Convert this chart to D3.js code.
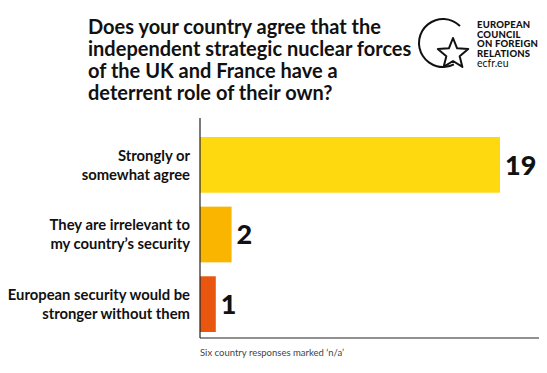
<!DOCTYPE html>
<html>
<head>
<meta charset="utf-8">
<script src="https://cdn.jsdelivr.net/npm/d3@7"></script>
<style>
  html, body { margin: 0; padding: 0; background: #fff; }
  svg { display: block; font-family: Lato, "Open Sans", sans-serif; }
</style>
</head>
<body>
<svg id="chart"></svg>
<script>
// data
const categories = [
  ["Strongly or", "somewhat agree"],
  ["They are irrelevant to", "my country\u2019s security"],
  ["European security would be", "stronger without them"]
];
const values = [19, 2, 1];
const barColors = ["#ffd90f", "#f9b500", "#e8560f"];
const titleLines = [
  "Does your country agree that the",
  "independent strategic nuclear forces",
  "of the UK and France have a",
  "deterrent role of their own?"
];
const logoLines = ["EUROPEAN", "COUNCIL", "ON FOREIGN", "RELATIONS"];
const footnote = "Six country responses marked \u2018n/a\u2019";

const width = 547, height = 373;
const svg = d3.select("#chart").attr("width", width).attr("height", height);

// title
svg.append("g").selectAll("text")
  .data(titleLines)
  .enter().append("text")
  .attr("x", 88)
  .attr("y", (d, i) => 34 + i * 22)
  .attr("font-size", 20)
  .attr("font-weight", 700)
  .attr("fill", "#111")
  .text(d => d);

// logo
const logo = svg.append("g");
const arc = d3.arc().innerRadius(23).outerRadius(25)
  .startAngle(Math.PI * 0.85).endAngle(Math.PI * 2.25);
logo.append("path").attr("d", arc()).attr("transform", "translate(443,43)").attr("fill", "#111");
const star = [];
for (let i = 0; i < 10; i++) {
  const r = i % 2 === 0 ? 16 : 7;
  const a = -Math.PI / 2 + i * Math.PI / 5;
  star.push([r * Math.cos(a), r * Math.sin(a)]);
}
logo.append("path")
  .attr("d", d3.line()(star) + "Z")
  .attr("transform", "translate(453,54)")
  .attr("fill", "#fff").attr("stroke", "#111").attr("stroke-width", 2).attr("stroke-linejoin", "round");
logo.selectAll("text.l")
  .data(logoLines)
  .enter().append("text")
  .attr("class", "l")
  .attr("x", 477)
  .attr("y", (d, i) => 28 + i * 9.5)
  .attr("font-size", 9.5)
  .attr("font-weight", 900)
  .attr("letter-spacing", 0.2)
  .attr("fill", "#111")
  .text(d => d);
logo.append("text")
  .attr("x", 477).attr("y", 67)
  .attr("font-size", 10.5)
  .attr("fill", "#111")
  .text("ecfr.eu");

// scales
const x = d3.scaleLinear().domain([0, 19]).range([200, 500]);
const y = d3.scaleBand().domain(d3.range(values.length)).range([137, 332]).paddingInner(0.2);

// bars
svg.append("g").selectAll("rect")
  .data(values)
  .enter().append("rect")
  .attr("x", x(0))
  .attr("y", (d, i) => y(i))
  .attr("width", d => x(d) - x(0))
  .attr("height", y.bandwidth())
  .attr("fill", (d, i) => barColors[i]);

// value labels
svg.append("g").selectAll("text")
  .data(values)
  .enter().append("text")
  .attr("x", d => x(d) + 5)
  .attr("y", (d, i) => y(i) + y.bandwidth() / 2)
  .attr("dy", "0.36em")
  .attr("font-size", 27)
  .attr("font-weight", 900)
  .attr("fill", "#111")
  .text(d => d);

// category labels
const cat = svg.append("g").selectAll("text")
  .data(categories)
  .enter().append("text")
  .attr("text-anchor", "end")
  .attr("font-size", 14.8)
  .attr("font-weight", 700)
  .attr("fill", "#111");
cat.selectAll("tspan")
  .data((d, i) => d.map((t, j) => ({ t, j, i })))
  .enter().append("tspan")
  .attr("x", 190)
  .attr("y", d => y(d.i) + y.bandwidth() / 2 + (d.j - 0.5) * 19)
  .attr("dy", "0.35em")
  .text(d => d.t);

// axis lines
svg.append("line").attr("x1", 200).attr("x2", 200).attr("y1", 118).attr("y2", 338)
  .attr("stroke", "#222").attr("stroke-width", 1.2);
svg.append("line").attr("x1", 200).attr("x2", 539).attr("y1", 338).attr("y2", 338)
  .attr("stroke", "#222").attr("stroke-width", 1.2);

// footnote
svg.append("text")
  .attr("x", 200).attr("y", 356)
  .attr("font-size", 9.5)
  .attr("fill", "#444")
  .text(footnote);
</script>
</body>
</html>
